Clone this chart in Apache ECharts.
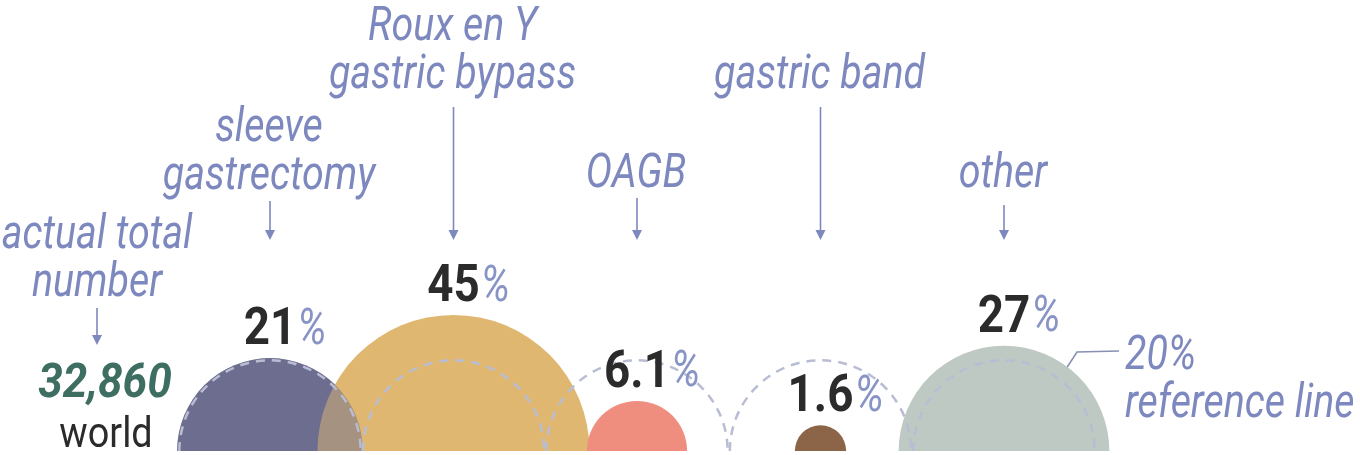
<!DOCTYPE html>
<html>
<head>
<meta charset="utf-8">
<script src="https://cdn.jsdelivr.net/npm/echarts@6/dist/echarts.min.js"></script>
<style>
html,body{margin:0;padding:0;background:#fff;}
#chart{width:1360px;height:455px;}
</style>
</head>
<body>
<div id="chart"></div>
<script>
// ---- data ----
var categories = ['sleeve\ngastrectomy', 'Roux en Y\ngastric bypass', 'OAGB', 'gastric band', 'other'];
var shares = [21, 45, 6.1, 1.6, 27];
var shareLabels = ['21', '45', '6.1', '1.6', '27'];
var referenceShare = 20;
var referenceLabel = ['20%', 'reference line'];
var totalNumber = '32,860';
var totalRegion = 'world';
var totalCaption = ['actual total', 'number'];

// ---- styling / layout ----
var colors = ['#6d6e8f', '#dfb771', '#ef8e7e', '#8c6448', '#bfc9c3'];
var labelBlue = '#7d88bf';
var pctBlue = '#8994c6';
var darkText = '#2b2b2b';
var ringColor = '#b9bdd4';
var SX = 0.82;           // horizontal condensing of caption text
var NSX = 0.88;          // condensing of the percent numbers
var LINE = 48;           // caption line spacing
var labelLastBaseline = [190, 89, 188, 89, 188];
var arrowTopY = [201, 107, 198, 107, 205];
var arrowBottomY = 240;

var measureCtx = document.createElement('canvas').getContext('2d');
function textWidth(str, font) { measureCtx.font = font; return measureCtx.measureText(str).width; }

function arrow(x, y1, y2) {
  return [
    { type: 'line', shape: { x1: x, y1: y1, x2: x, y2: y2 - 8 }, style: { stroke: labelBlue, lineWidth: 1.6 } },
    { type: 'polygon', shape: { points: [[x - 5, y2 - 10], [x + 5, y2 - 10], [x, y2]] }, style: { fill: labelBlue } }
  ];
}
// place a line of text by its baseline (calibrated for Roboto: middle = baseline - 0.27em)
function captionLine(str, x, baseline, size, align, sx, fill, weight, style) {
  return {
    type: 'text', x: x, y: baseline - size * 0.27, scaleX: sx,
    style: {
      text: str, font: (style || 'italic') + ' ' + (weight || 400) + ' ' + size + 'px Roboto',
      fill: fill, textAlign: align, textVerticalAlign: 'middle'
    }
  };
}

var chart = echarts.init(document.getElementById('chart'), null, { renderer: 'canvas' });

var seriesData = shares.map(function (v, i) { return [i, Math.sqrt(v), Math.sqrt(referenceShare), v]; });

function semi(cx, cy, r, fill, opacity) {
  return {
    type: 'sector',
    shape: { cx: cx, cy: cy, r0: 0, r: r, startAngle: Math.PI, endAngle: Math.PI * 2, clockwise: true },
    style: { fill: fill, opacity: opacity == null ? 1 : opacity }
  };
}

function shapeItem(params, api) {
  var i = api.value(0);
  var base = api.coord([i, 0]);
  var r = api.size([0, api.value(1)])[1];
  return semi(base[0], base[1], r, colors[i]);
}

// sleeve redrawn translucent so its overlap with the bypass shows as a blend
function overlayItem(params, api) {
  var i = api.value(0);
  if (i !== 0) return { type: 'group', children: [] };
  var base = api.coord([i, 0]);
  var r = api.size([0, api.value(1)])[1];
  return semi(base[0], base[1], r, colors[i], 0.5);
}

function ringAndLabels(params, api) {
  var i = api.value(0);
  var base = api.coord([i, 0]);
  var r = api.size([0, api.value(1)])[1];
  var rr = api.size([0, api.value(2)])[1];
  var children = [];
  children.push({
    type: 'arc',
    shape: { cx: base[0], cy: base[1], r: rr, startAngle: Math.PI, endAngle: Math.PI * 2, clockwise: true },
    style: { stroke: ringColor, lineWidth: 2.5, lineDash: [9, 7], fill: null }
  });
  // percentage label: number centred on the shape, % sign appended
  var numFont = 'bold 52px Roboto';
  var nw = textWidth(shareLabels[i], numFont) * NSX;
  var bl = base[1] - r - 13;
  children.push({
    type: 'text', x: base[0], y: bl - 14, scaleX: NSX,
    style: { text: shareLabels[i], font: numFont, fill: darkText, textAlign: 'center', textVerticalAlign: 'middle' }
  });
  children.push({
    type: 'text', x: base[0] + nw / 2 + 1, y: bl - 14, scaleX: 0.82,
    style: { text: '%', font: 'italic 400 50px Roboto', fill: pctBlue, textAlign: 'left', textVerticalAlign: 'middle' }
  });
  // category caption and arrow
  var lines = categories[i].split('\n');
  var last = labelLastBaseline[i];
  lines.forEach(function (ln, k) {
    var b = last - (lines.length - 1 - k) * LINE;
    children.push(captionLine(ln, base[0] - 1, b, 48, 'center', SX, labelBlue));
  });
  children = children.concat(arrow(base[0], arrowTopY[i], arrowBottomY));
  return { type: 'group', children: children };
}

var option = {
  animation: false,
  grid: { left: 178.25, right: 264.25, top: 5, bottom: 4 },
  xAxis: { type: 'category', data: categories, show: false, boundaryGap: true },
  yAxis: { type: 'value', min: 0, max: 22, show: false },
  series: [
    { type: 'custom', renderItem: shapeItem, data: seriesData, silent: true, z: 1 },
    { type: 'custom', renderItem: overlayItem, data: seriesData, silent: true, z: 2 },
    { type: 'custom', renderItem: ringAndLabels, data: seriesData, silent: true, z: 3 }
  ],
  graphic: [
    captionLine(totalCaption[0], 97, 249, 48, 'center', SX, labelBlue),
    captionLine(totalCaption[1], 97, 297, 48, 'center', SX, labelBlue),
    { type: 'line', shape: { x1: 97, y1: 308, x2: 97, y2: 337 }, style: { stroke: labelBlue, lineWidth: 1.6 } },
    { type: 'polygon', shape: { points: [[92, 335], [102, 335], [97, 345]] }, style: { fill: labelBlue } },
    captionLine(totalNumber, 105, 398, 48, 'center', 0.92, '#3e6e62', 700, 'italic'),
    captionLine(totalRegion, 106, 448, 42, 'center', 0.9, darkText, 400, 'normal'),
    { type: 'polyline', shape: { points: [[1064, 372], [1077, 352], [1119, 351]] }, style: { stroke: '#8890b4', lineWidth: 1.6, fill: null } },
    captionLine(referenceLabel[0], 1125, 370, 48, 'left', SX, labelBlue),
    captionLine(referenceLabel[1], 1125, 418, 48, 'left', SX, labelBlue)
  ]
};
chart.setOption(option);
</script>
</body>
</html>
